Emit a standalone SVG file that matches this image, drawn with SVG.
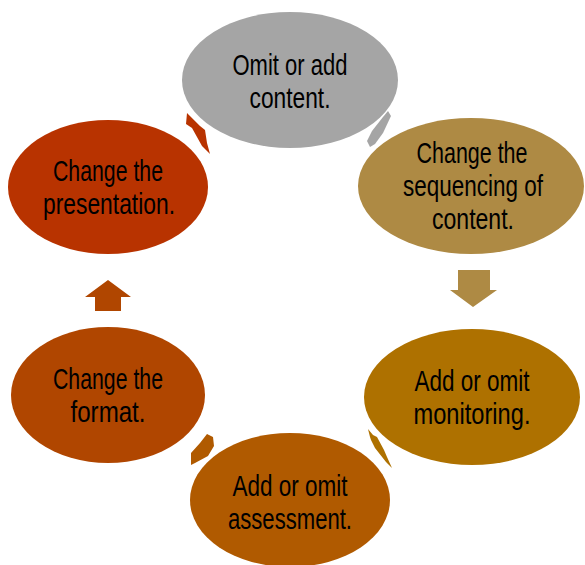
<svg xmlns="http://www.w3.org/2000/svg" width="585" height="565" viewBox="0 0 585 565">
<style>
text{font-family:"Liberation Sans Narrow","Liberation Sans",Arial,sans-serif;font-size:30px;fill:#000;text-anchor:middle}
</style>
<rect width="585" height="565" fill="#fff"/>
<g id="connectors">
<polygon points="187,113 200,126 205,130 207,143 210,154 202,146 197,137 192,128 186,124" fill="#B83300"/>
<polygon points="388,111 391,116 383,133 375,144 370,147 367,141 372,131 383,117" fill="#A5A5A5"/>
<polygon points="458,270 490,270 490,290 497,290 473,307 450,290 458,290" fill="#AE8A44"/>
<polygon points="368,429 373,435 377,437 384,450 387,457 392,468 386,462 375,448 371,440 370,437" fill="#AE7100"/>
<polygon points="207,434 213,437 214,446 208,456 195,463 191,465 191,453 200,443" fill="#B05A00"/>
<polygon points="108,280 131,297 121,297 121,311 95,311 95,297 85,297" fill="#B04600"/>
</g>
<g id="n1"><ellipse cx="290" cy="80" rx="108" ry="68" fill="#A5A5A5"/>
<text x="290" y="75" textLength="115" lengthAdjust="spacingAndGlyphs">Omit or add</text>
<text x="290" y="108" textLength="81" lengthAdjust="spacingAndGlyphs">content.</text></g>
<g id="n2"><ellipse cx="471" cy="186" rx="113" ry="68" fill="#AE8A44"/>
<text x="472" y="163" textLength="111" lengthAdjust="spacingAndGlyphs">Change the</text>
<text x="473" y="196" textLength="140" lengthAdjust="spacingAndGlyphs">sequencing of</text>
<text x="473" y="229" textLength="82" lengthAdjust="spacingAndGlyphs">content.</text></g>
<g id="n3"><ellipse cx="472" cy="397" rx="108" ry="68" fill="#AE7100"/>
<text x="472" y="391" textLength="115" lengthAdjust="spacingAndGlyphs">Add or omit</text>
<text x="472" y="424" textLength="117" lengthAdjust="spacingAndGlyphs">monitoring.</text></g>
<g id="n4"><ellipse cx="290" cy="500" rx="100" ry="67" fill="#B05A00"/>
<text x="290" y="496" textLength="115" lengthAdjust="spacingAndGlyphs">Add or omit</text>
<text x="290" y="529" textLength="124" lengthAdjust="spacingAndGlyphs">assessment.</text></g>
<g id="n5"><ellipse cx="108" cy="395" rx="97" ry="68" fill="#B04600"/>
<text x="108" y="389" textLength="110" lengthAdjust="spacingAndGlyphs">Change the</text>
<text x="108" y="422" textLength="75" lengthAdjust="spacingAndGlyphs">format.</text></g>
<g id="n6"><ellipse cx="108" cy="187" rx="100" ry="67" fill="#B83300"/>
<text x="108" y="181" textLength="110" lengthAdjust="spacingAndGlyphs">Change the</text>
<text x="109" y="214" textLength="132" lengthAdjust="spacingAndGlyphs">presentation.</text></g>
</svg>
